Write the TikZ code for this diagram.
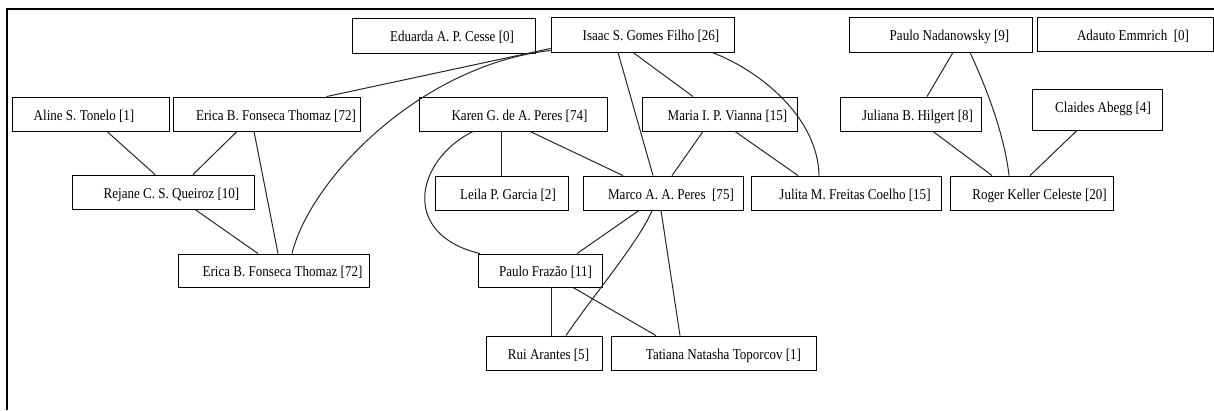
\documentclass[tikz,border=0pt]{standalone}
\usepackage{fontspec}
\setmainfont{Liberation Serif}[FakeStretch=0.87]
\begin{document}
\begin{tikzpicture}[x=1pt,y=-1pt,
  box/.style={draw=black, line width=0.9pt, inner sep=0pt, minimum height=34pt, text height=14pt, text depth=2pt, font=\fontsize{15}{17}\selectfont},
  edge/.style={draw=black!85, line width=1pt},
  frameline/.style={draw=black, line width=1.6pt}]
\useasboundingbox (0,0) rectangle (1214,410);
\draw[frameline] (7,410) -- (7,9) -- (1214,9);
% nodes
\node[box, minimum width=183pt, minimum height=35pt] (eduarda) at (443.5,35.5) {\hspace*{17pt}Eduarda A. P. Cesse [0]};
\node[box, minimum width=183pt, minimum height=35pt] (isaac) at (642.5,34.5) {\hspace*{17pt}Isaac S. Gomes Filho [26]};
\node[box, minimum width=183pt, minimum height=35pt] (pnad) at (940.5,34.5) {\hspace*{18pt}Paulo Nadanowsky [9]};
\node[box, minimum width=176pt] (adauto) at (1125,34) {\hspace*{16pt}Adauto Emmrich~~[0]};
\node[box, minimum width=157pt] (aline) at (90.5,114) {Aline S. Tonelo [1]\hspace*{13pt}};
\node[box, minimum width=187pt] (ericat) at (266.5,114) {\hspace*{19pt}Erica B. Fonseca Thomaz [72]};
\node[box, minimum width=188pt] (karen) at (513,114) {\hspace*{13pt}Karen G. de A. Peres [74]};
\node[box, minimum width=155pt] (maria) at (719.5,114) {\hspace*{16pt}Maria I. P. Vianna [15]};
\node[box, minimum width=141pt] (juliana) at (910.5,114) {\hspace*{14pt}Juliana B. Hilgert [8]};
\node[box, minimum width=130pt, minimum height=41pt] (claides) at (1097,109.5) {\hspace*{12pt}\raisebox{3.5pt}{Claides Abegg [4]}};
\node[box, minimum width=182pt] (rejane) at (163,192) {\hspace*{17pt}Rejane C. S. Queiroz [10]};
\node[box, minimum width=191pt, minimum height=33pt] (ericab) at (273.5,270.5) {\hspace*{18pt}Erica B. Fonseca Thomaz [72]};
\node[box, minimum width=133pt] (leila) at (501.5,193) {\hspace*{13pt}Leila P. Garcia [2]};
\node[box, minimum width=160pt] (marco) at (663,193) {\hspace*{16pt}Marco A. A. Peres~~[75]};
\node[box, minimum width=190pt] (julita) at (846,193) {\hspace*{18pt}Julita M. Freitas Coelho [15]};
\node[box, minimum width=163pt] (roger) at (1031.5,193) {\hspace*{16pt}Roger Keller Celeste [20]};
\node[box, minimum width=124pt, minimum height=33pt] (pfrazao) at (540,270.5) {\hspace*{11pt}Paulo Frazão [11]};
\node[box, minimum width=116pt] (rui) at (544,353) {\hspace*{9pt}Rui Arantes [5]};
\node[box, minimum width=205pt] (tatiana) at (713.5,353) {\hspace*{20pt}Tatiana Natasha Toporcov [1]};
% edges
\draw[edge] ([yshift=4pt]isaac.south west) -- ([xshift=60pt]ericat.north);
\draw[edge] ([yshift=2pt]isaac.south west) .. controls +(-131,15) and +(18,-74) .. ([xshift=18.5pt]ericab.north);
\draw[edge] ([xshift=-9.5pt]isaac.south) -- ([xshift=-26.5pt]maria.north);
\draw[edge] ([xshift=-24.5pt]isaac.south) -- ([xshift=-10pt]marco.north);
\draw[edge] ([xshift=69.5pt]isaac.south) .. controls +(48,18) and +(-1,-58) .. ([xshift=-27pt]julita.north);
\draw[edge] ([xshift=16.5pt]aline.south) -- ([xshift=-8pt]rejane.north);
\draw[edge] ([xshift=-29.5pt]ericat.south) -- ([xshift=30pt]rejane.north);
\draw[edge] ([xshift=-12.5pt]ericat.south) -- ([xshift=4.5pt]ericab.north);
\draw[edge] ([xshift=32pt]rejane.south) -- ([xshift=-15.5pt]ericab.north);
\draw[edge] ([xshift=-12pt]karen.south) -- ([xshift=-0.5pt]leila.north);
\draw[edge] ([xshift=17pt]karen.south) -- ([xshift=-40pt]marco.north);
\draw[edge] ([xshift=-40pt]karen.south) .. controls +(-58,29) and +(-80,-19) .. ([xshift=-60pt]pfrazao.north);
\draw[edge] ([xshift=-16.5pt]maria.south) -- ([xshift=9pt]marco.north);
\draw[edge] ([xshift=15.5pt]maria.south) -- ([xshift=-48pt]julita.north);
\draw[edge] ([xshift=12.5pt]pnad.south) -- ([xshift=16.5pt]juliana.north);
\draw[edge] ([xshift=29.5pt]pnad.south) .. controls +(20,43) and +(-4,-36) .. ([xshift=-22.5pt]roger.north);
\draw[edge] ([xshift=22.5pt]juliana.south) -- ([xshift=-39.5pt]roger.north);
\draw[edge] ([xshift=-20pt]claides.south) -- ([xshift=-1.5pt]roger.north);
\draw[edge] ([xshift=-24pt]marco.south) -- ([xshift=37pt]pfrazao.north);
\draw[edge] ([xshift=-11pt]marco.south) .. controls +(-12,30) and +(24,-36) .. ([xshift=22pt]rui.north);
\draw[edge] ([xshift=-2pt]marco.south) -- ([xshift=-33.5pt]tatiana.north);
\draw[edge] ([xshift=11pt]pfrazao.south) -- ([xshift=7pt]rui.north);
\draw[edge] ([xshift=33pt]pfrazao.south) -- ([xshift=-57.5pt]tatiana.north);
\end{tikzpicture}
\end{document}
